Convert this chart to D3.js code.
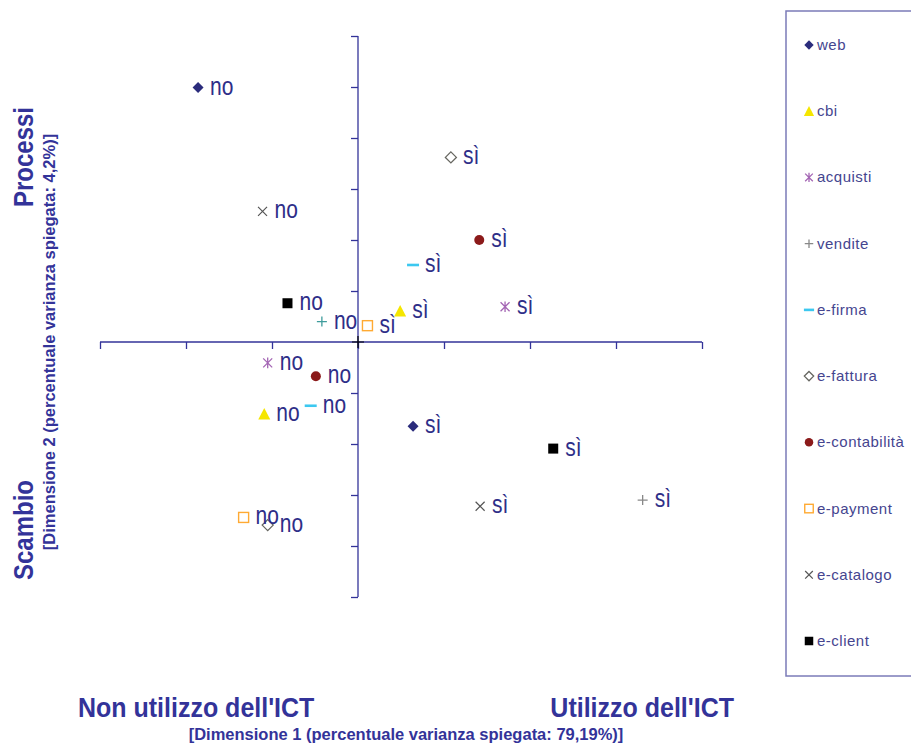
<!DOCTYPE html>
<html><head><meta charset="utf-8">
<script src="https://cdn.jsdelivr.net/npm/d3@7"></script>
<style>body{margin:0;background:#fff;} svg{display:block;}</style>
</head><body>
<script>
// ---- data ----
const categories = ["web","cbi","acquisti","vendite","e-firma","e-fattura","e-contabilità","e-payment","e-catalogo","e-client"];
const markerTypes = ["diamond","triangle","asterisk","plus","dash","diamondOpen","circle","squareOpen","cross","square"];
const seriesColors = ["#2B2C7C","#F5E600","#A466B4","#888888","#3CC8F0","#666660","#8B1A1A","#FFAA33","#555555","#000000"];
const noColors     = ["#2B2C7C","#F5E600","#A466B4","#3F9C9C","#3CC8F0","#666660","#8B1A1A","#FFAA33","#555555","#000000"];
const noX  = [-1.86,-1.09,-1.05,-0.42,-0.55,-1.05,-0.49,-1.33,-1.11,-0.82];
const noY  = [ 4.99,-1.41,-0.41, 0.40,-1.25,-3.59,-0.67,-3.44, 2.56, 0.76];
const siX  = [ 0.64, 0.49, 1.71, 3.31, 0.64, 1.08, 1.41, 0.11, 1.42, 2.27];
const siY  = [-1.65, 0.61, 0.69,-3.10, 1.51, 3.62, 2.00, 0.32,-3.22,-2.09];
const pointLabels = ["no","sì"];
const xTicks = [-3,-2,-1,0,1,2,3,4];
const yTicks = [-5,-4,-3,-2,-1,0,1,2,3,4,5,6];
const xTitleLeft = "Non utilizzo dell'ICT";
const xTitleRight = "Utilizzo dell'ICT";
const xSubtitle = "[Dimensione 1 (percentuale varianza spiegata: 79,19%)]";
const yTitleTop = "Processi";
const yTitleBottom = "Scambio";
const ySubtitle = "[Dimensione 2 (percentuale varianza spiegata: 4,2%)]";

// ---- setup ----
const W = 911, H = 747;
const axisColor = "#333399", textColor = "#2E2E88", legendTextColor = "#45458F";
const svg = d3.select("body").append("svg").attr("width", W).attr("height", H)
  .style("font-family", "'Liberation Sans', Arial, sans-serif");

const x = d3.scaleLinear().domain([-3, 4]).range([100, 702]);
const y = d3.scaleLinear().domain([-5, 6]).range([597, 36]);

// x axis (ticks down)
const xAxis = d3.axisBottom(x).tickValues(xTicks).tickSize(7).tickFormat("");
const gx = svg.append("g").attr("transform", `translate(0,${y(0)})`).call(xAxis);
// y axis (ticks left)
const yAxis = d3.axisLeft(y).tickValues(yTicks.filter(v => v !== 0)).tickSize(7).tickFormat("");
const gy = svg.append("g").attr("transform", `translate(${x(0)},0)`).call(yAxis);
[gx, gy].forEach(g => {
  g.select(".domain").attr("stroke", axisColor).attr("stroke-width", 1.3);
  g.selectAll(".tick line").attr("stroke", axisColor).attr("stroke-width", 1.3);
});
gx.select(".domain").attr("d", `M${x(-3)},0H${x(4)}`);
gy.select(".domain").attr("d", `M0,${y(-5)}V${y(6)}`);
// small black cross at origin
svg.append("path")
  .attr("d", `M${x(0)-6},${y(0)}H${x(0)+6}M${x(0)},${y(0)-6}V${y(0)+6}`)
  .attr("stroke", "#000").attr("stroke-width", 1.2);

// ---- markers ----
function drawMarker(g, type, color, s) {
  s = s || 1;
  const r = 5.5 * s;
  switch (type) {
    case "diamond":
      g.append("path").attr("d", `M0,${-r}L${r},0L0,${r}L${-r},0Z`).attr("fill", color); break;
    case "diamondOpen":
      g.append("path").attr("d", `M0,${-r}L${r},0L0,${r}L${-r},0Z`).attr("fill", "#fff").attr("stroke", color).attr("stroke-width", 1.3); break;
    case "triangle":
      g.append("path").attr("d", `M0,${-6*s}L${6*s},${5.5*s}L${-6*s},${5.5*s}Z`).attr("fill", color); break;
    case "square":
      g.append("rect").attr("x", -5*s).attr("y", -5*s).attr("width", 10*s).attr("height", 10*s).attr("fill", color); break;
    case "squareOpen":
      g.append("rect").attr("x", -5*s).attr("y", -5*s).attr("width", 10*s).attr("height", 10*s).attr("fill", "#fff").attr("stroke", color).attr("stroke-width", 1.4); break;
    case "circle":
      g.append("circle").attr("r", 5*s).attr("fill", color); break;
    case "asterisk": {
      const a = 4.5*s;
      g.append("path").attr("d", `M${-a},${-a}L${a},${a}M${-a},${a}L${a},${-a}M0,${-a-0.8}V${a+0.8}`)
        .attr("stroke", color).attr("stroke-width", 1.3).attr("fill", "none"); break; }
    case "plus": {
      const a = 5*s;
      g.append("path").attr("d", `M${-a},0H${a}M0,${-a}V${a}`).attr("stroke", color).attr("stroke-width", 1.3); break; }
    case "cross": {
      const a = 4.5*s;
      g.append("path").attr("d", `M${-a},${-a}L${a},${a}M${-a},${a}L${a},${-a}`).attr("stroke", color).attr("stroke-width", 1.2); break; }
    case "dash":
      g.append("path").attr("d", `M${-6*s},0H${6*s}`).attr("stroke", color).attr("stroke-width", 2.6); break;
  }
}

// ---- points + labels ----
const pts = [];
categories.forEach((c, i) => {
  pts.push({i, x: noX[i], y: noY[i], label: pointLabels[0], color: noColors[i]});
  pts.push({i, x: siX[i], y: siY[i], label: pointLabels[1], color: seriesColors[i]});
});
const pg = svg.append("g");
pts.forEach(p => {
  const g = pg.append("g").attr("transform", `translate(${x(p.x)},${y(p.y)})`);
  drawMarker(g, markerTypes[p.i], p.color);
  g.append("text").attr("transform", "translate(12,7) scale(1,1.2)")
    .attr("font-size", 21).attr("fill", textColor).text(p.label);
});

// ---- legend ----
svg.append("rect").attr("x", 786).attr("y", 11).attr("width", 140).attr("height", 665)
  .attr("fill", "none").attr("stroke", "#7B7BB8").attr("stroke-width", 1.5);
const ly = d3.scalePoint().domain(categories).range([45, 641]);
categories.forEach((c, i) => {
  const g = svg.append("g").attr("transform", `translate(809,${ly(c)})`);
  drawMarker(g, markerTypes[i], seriesColors[i], 0.85);
  g.append("text").attr("x", 8).attr("y", 5).attr("font-size", 15).attr("letter-spacing", 0.5)
    .attr("fill", legendTextColor).text(c);
});

// ---- titles ----
function t(xp, yp, str, size, weight, anchor, rot, sy) {
  const g = svg.append("g").attr("transform", `translate(${xp},${yp})` + (rot ? ` rotate(${rot})` : ""));
  g.append("text").attr("transform", `scale(1,${sy || 1})`).attr("font-size", size).attr("font-weight", weight)
    .attr("text-anchor", anchor).attr("fill", axisColor).text(str);
}
t(78, 717, xTitleLeft, 25, "bold", "start", 0, 1.1);
t(734, 717, xTitleRight, 25, "bold", "end", 0, 1.1);
t(406, 740, xSubtitle, 16.5, "bold", "middle", 0, 1);
t(33, 207, yTitleTop, 24, "bold", "start", -90, 1.12);
t(33, 580, yTitleBottom, 24, "bold", "start", -90, 1.12);
t(55, 342, ySubtitle, 16.5, "bold", "middle", -90, 1);
</script>
</body></html>
